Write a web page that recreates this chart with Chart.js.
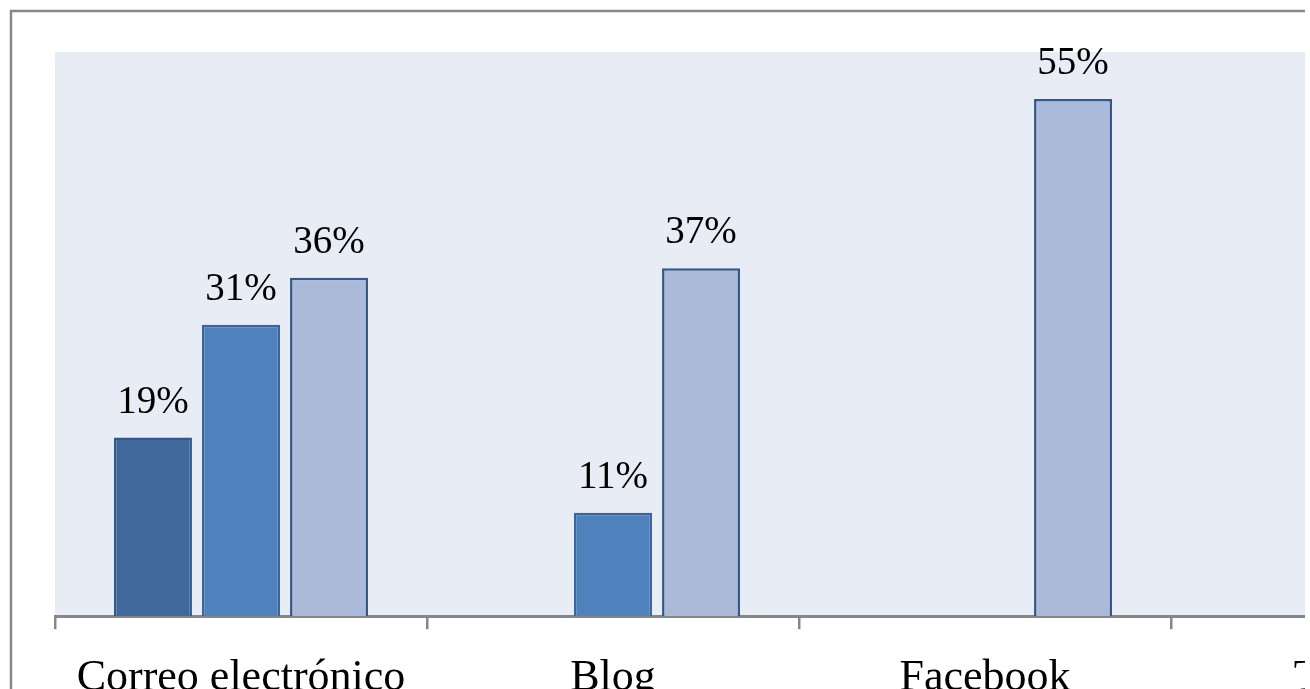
<!DOCTYPE html>
<html>
<head>
<meta charset="utf-8">
<script src="https://cdn.jsdelivr.net/npm/chart.js@4/dist/chart.umd.min.js"></script>
<style>
  body { margin: 0; background: #fff; }
  #wrap { width: 1305px; height: 689px; overflow: hidden; position: relative; }
  #chart { display: block; }
</style>
</head>
<body>
<div id="wrap">
  <canvas id="chart" width="1562" height="728"></canvas>
</div>
<script>
// categories (last one is cut off at the right edge of the picture)
const categories = ["Correo electrónico", "Blog", "Facebook", "Twitter"];

// three series, values in %
const serie1 = [19, null, null, null];
const serie2 = [31, 11, null, null];
const serie3 = [36, 37, 55, null];

const yMin = 0;
const yMax = 60;

// plot background + outer frame
const framePlugin = {
    id: 'frame',
    beforeDraw(chart) {
        const ctx = chart.ctx;
        const a = chart.chartArea;
        ctx.save();
        ctx.fillStyle = '#fff';
        ctx.fillRect(0, 0, chart.width, chart.height);
        ctx.strokeStyle = '#878787';
        ctx.lineWidth = 2.5;
        ctx.strokeRect(11, 11, chart.width + 50, chart.height + 50);
        ctx.fillStyle = '#e8ecf4';
        ctx.fillRect(a.left, a.top, a.right - a.left, a.bottom - a.top);
        ctx.restore();
    }
};

// value labels above the bars
const valueLabels = {
    id: 'valueLabels',
    afterDatasetsDraw(chart) {
        const ctx = chart.ctx;
        ctx.save();
        ctx.font = '39px "Liberation Serif"';
        ctx.fillStyle = '#000';
        ctx.textAlign = 'center';
        ctx.textBaseline = 'alphabetic';
        chart.data.datasets.forEach((ds, i) => {
            chart.getDatasetMeta(i).data.forEach((bar, j) => {
                const v = ds.data[j];
                if (v === null || v === undefined) return;
                ctx.fillText(v + '%', bar.x, bar.y - 25);
            });
        });
        ctx.restore();
    }
};

const ctx = document.getElementById('chart').getContext('2d');
new Chart(ctx, {
    type: 'bar',
    data: {
        labels: categories,
        datasets: [{
            label: "Serie 1",
            data: serie1,
            backgroundColor: "#41689a",
            borderColor: "#33598a",
            borderWidth: 2.5
        }, {
            label: "Serie 2",
            data: serie2,
            backgroundColor: "#4f81bd",
            borderColor: "#3a66a0",
            borderWidth: 2.5
        }, {
            label: "Serie 3",
            data: serie3,
            backgroundColor: "#aabad8",
            borderColor: "#33598a",
            borderWidth: 2.5
        }]
    },
    options: {
        responsive: false,
        animation: false,
        categoryPercentage: 0.71,
        barPercentage: 0.886,
        layout: {
            padding: { left: 55, top: 52, right: 19, bottom: 0 }
        },
        plugins: {
            legend: { display: false },
            tooltip: { enabled: false }
        },
        scales: {
            x: {
                grid: {
                    display: true,
                    drawOnChartArea: false,
                    drawTicks: true,
                    tickLength: 13,
                    color: '#868686',
                    lineWidth: 2.5
                },
                border: { display: true, color: '#868686', width: 3 },
                ticks: {
                    autoSkip: false,
                    maxRotation: 0,
                    padding: 23,
                    color: '#000',
                    font: { family: 'Liberation Serif', size: 44 }
                }
            },
            y: {
                display: false,
                min: yMin,
                max: yMax
            }
        }
    },
    plugins: [framePlugin, valueLabels]
});
</script>
</body>
</html>
